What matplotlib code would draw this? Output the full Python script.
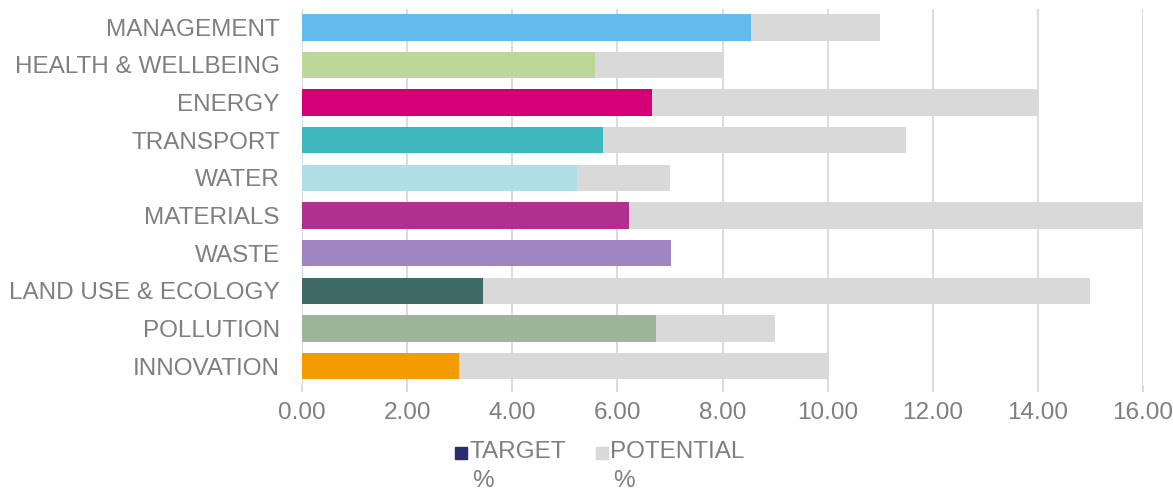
import matplotlib
matplotlib.use("Agg")
import matplotlib.pyplot as plt
from matplotlib.patches import Rectangle

categories = ["MANAGEMENT", "HEALTH & WELLBEING", "ENERGY", "TRANSPORT", "WATER",
              "MATERIALS", "WASTE", "LAND USE & ECOLOGY", "POLLUTION", "INNOVATION"]
target = [8.54, 5.58, 6.66, 5.73, 5.24, 6.23, 7.02, 3.45, 6.73, 2.99]
potential = [11.0, 8.0, 14.0, 11.5, 7.0, 16.05, 7.0, 15.0, 9.0, 10.0]
bar_colors = ["#63BBEE", "#BDD69A", "#D50077", "#3DB7BB", "#B0DFE6",
              "#B03090", "#9E86C2", "#406A66", "#9DB698", "#F39C00"]
xticks = [0, 2, 4, 6, 8, 10, 12, 14, 16]
legend_labels = [("TARGET", "%"), ("POTENTIAL", "%")]
legend_colors = ["#2B2D6E", "#D9D9D9"]

TXT = "#7F7F7F"
GRID = "#D9D9D9"
FS = 17.5
plt.rcParams["font.family"] = ["Liberation Sans", "DejaVu Sans"]

fig = plt.figure(figsize=(11.73, 4.92), dpi=100)
ax = fig.add_axes([302/1173, 1 - 385/492, (1143-302)/1173, (385-8.5)/492])

y = list(range(len(categories)))
ax.barh(y, potential, height=0.7, color="#D9D9D9", zorder=2)
ax.barh(y, target, height=0.7, color=bar_colors, zorder=3)

ax.set_yticks(y)
ax.set_yticklabels(categories, fontsize=FS, color=TXT)
ax.set_ylim(len(categories) - 0.5, -0.5)
ax.set_xlim(0, 16)
ax.set_xticks(xticks)
ax.set_xticklabels([f"{v:.2f}" for v in xticks], fontsize=FS, color=TXT)
ax.tick_params(axis="y", length=0, pad=16)
ax.tick_params(axis="x", length=5, color=GRID, width=1.3, pad=7)
ax.grid(axis="x", color=GRID, linewidth=1.3, zorder=0)
for s in ax.spines.values():
    s.set_visible(False)

# legend
W, H = 1173, 492
for (x0, tx), (l1, l2), col in zip([(455, 469), (596, 610)], legend_labels, legend_colors):
    fig.add_artist(Rectangle((x0/W, 1 - 459/H), 12/W, 12/H, transform=fig.transFigure,
                             color=col))
    fig.text(tx/W, 1 - 452/H, l1, fontsize=FS, color=TXT, va="center", ha="left")
    fig.text((tx + 3)/W, 1 - 481/H, l2, fontsize=FS, color=TXT, va="center", ha="left")

fig.savefig("out.png", dpi=100)
